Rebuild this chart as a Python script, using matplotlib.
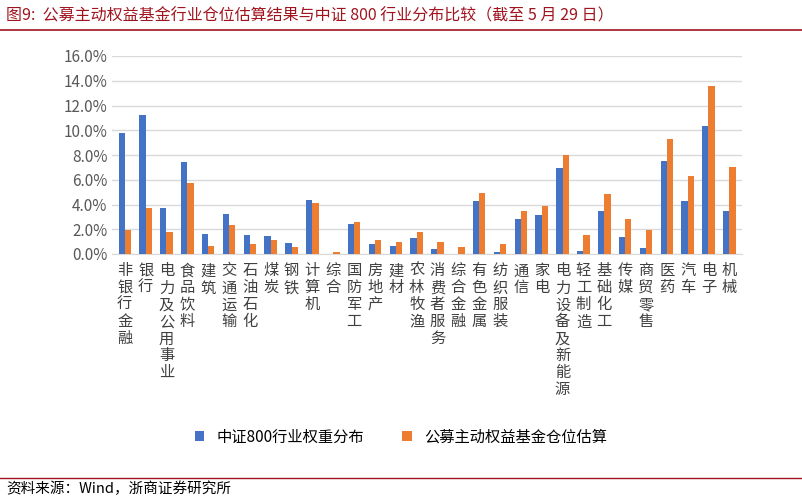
import matplotlib
matplotlib.use("Agg")
import matplotlib.pyplot as plt
import numpy as np
from matplotlib.ticker import FuncFormatter

plt.rcParams['font.family'] = ['Noto Sans CJK SC', 'DejaVu Sans']

categories = ["非银行金融","银行","电力及公用事业","食品饮料","建筑","交通运输","石油石化","煤炭","钢铁","计算机",
              "综合","国防军工","房地产","建材","农林牧渔","消费者服务","综合金融","有色金属","纺织服装","通信",
              "家电","电力设备及新能源","轻工制造","基础化工","传媒","商贸零售","医药","汽车","电子","机械"]
csi800 = [9.8,11.2,3.7,7.4,1.6,3.2,1.5,1.45,0.89,4.33,
          0.0,2.45,0.8,0.67,1.32,0.43,0.0,4.3,0.19,2.82,
          3.12,6.94,0.27,3.47,1.37,0.48,7.5,4.25,10.38,3.47]
funds = [1.9,3.7,1.75,5.75,0.67,2.37,0.83,1.1,0.6,4.14,
         0.19,2.6,1.13,1.0,1.8,0.94,0.54,4.9,0.8,3.47,
         3.9,8.0,1.53,4.81,2.82,1.94,9.3,6.29,13.57,6.99]
series_names = ["中证800行业权重分布", "公募主动权益基金仓位估算"]

fig = plt.figure(figsize=(8.02, 5.0), dpi=100)
ax = fig.add_axes([0.14, 0.492, 0.785, 0.396])
x = np.arange(len(categories))
w = 0.3
ax.bar(x - w/2, csi800, w, color='#4472C4', label=series_names[0], zorder=3)
ax.bar(x + w/2, funds, w, color='#ED7D31', label=series_names[1], zorder=3)
ax.set_ylim(0, 16)
ax.set_yticks(np.arange(0, 17, 2))
ax.yaxis.set_major_formatter(FuncFormatter(lambda v, p: f"{v:.1f}%"))
ax.grid(axis='y', color='#d9d9d9', lw=1, zorder=0)
ax.set_xlim(-0.6, len(categories) - 0.4)
ax.set_xticks(x)
ax.set_xticklabels(["\n".join(c) for c in categories], fontsize=11, color='#404040', va='top', linespacing=1.0)
ax.tick_params(axis='x', length=0, pad=6)
ax.tick_params(axis='y', length=0, labelsize=11, labelcolor='#595959')
for s in ['top', 'right', 'left']:
    ax.spines[s].set_visible(False)
ax.spines['bottom'].set_color('#d9d9d9')

fig.legend(loc='center', bbox_to_anchor=(0.5, 0.126), ncol=2, frameon=False, fontsize=11,
           handlelength=0.6, handleheight=0.6, columnspacing=2.5)

fig.text(0.008, 0.968, "图9:  公募主动权益基金行业仓位估算结果与中证 800 行业分布比较（截至 5 月 29 日）",
         fontsize=11.5, color='#A0141E', va='center')
fig.add_artist(plt.Line2D([0.0, 1.0], [0.94, 0.94], color='#A0141E', lw=1.2))
fig.add_artist(plt.Line2D([0.0, 1.0], [0.045, 0.045], color='#A0141E', lw=1.0))
fig.text(0.008, 0.022, "资料来源：Wind，浙商证券研究所", fontsize=10.5, color='#000000', va='center')

fig.savefig("out.png", dpi=100)
